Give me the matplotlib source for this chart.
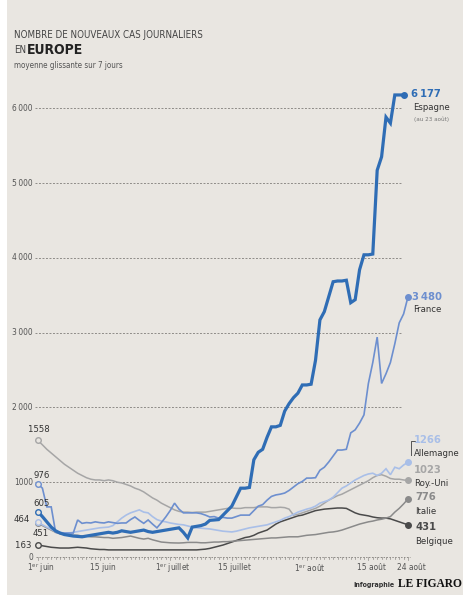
import matplotlib
matplotlib.use("Agg")
import matplotlib.pyplot as plt
from matplotlib.patches import Rectangle
import numpy as np

W, H = 463, 595

espagne = [605, 540, 470, 400, 350, 320, 300, 290, 280, 275, 270, 280, 290, 300, 310, 320, 330, 320, 330, 350,
           340, 330, 340, 350, 360, 340, 330, 340, 350, 360, 370, 380, 390, 330, 255, 400, 410, 420, 440, 490,
           495, 500, 560, 620, 680, 800, 920, 920, 930, 1300, 1400, 1440, 1600, 1740, 1740, 1760, 1950, 2050, 2130, 2190,
           2300, 2300, 2310, 2630, 3170, 3280, 3480, 3680, 3690, 3690, 3700, 3400, 3440, 3840, 4040, 4040, 4050, 5170, 5350, 5880,
           5800, 6177, 6177, 6177]
france = [976, 920, 670, 670, 330, 320, 320, 320, 320, 495, 450, 460, 455, 470, 460, 455, 470, 460, 450, 455,
          455, 500, 535, 490, 450, 495, 440, 390, 460, 535, 620, 720, 640, 590, 590, 590, 590, 580, 560, 535,
          540, 520, 530, 520, 520, 540, 560, 560, 560, 620, 680, 700, 760, 810, 830, 840, 855, 890, 935, 980,
          1010, 1055, 1055, 1060, 1160, 1200, 1270, 1350, 1430, 1430, 1440, 1660, 1700, 1790, 1900, 2320, 2600, 2940, 2320, 2450,
          2600, 2850, 3130, 3250, 3480]
allemagne = [464, 430, 400, 370, 340, 330, 320, 320, 330, 340, 350, 360, 370, 380, 390, 395, 400, 420, 470, 520,
             560, 590, 610, 630, 600, 590, 540, 500, 480, 470, 455, 445, 435, 430, 415, 400, 390, 385, 380, 375,
             365, 355, 345, 340, 335, 345, 360, 375, 390, 400, 410, 420, 430, 450, 470, 490, 520, 540, 570, 600,
             620, 640, 655, 680, 720, 740, 760, 800, 860, 920, 950, 990, 1030, 1060, 1090, 1110, 1120, 1090, 1120, 1180,
             1100, 1200, 1180, 1230, 1266]
royaume_uni = [1558, 1500, 1440, 1390, 1340, 1290, 1240, 1200, 1160, 1120, 1090, 1060, 1040, 1030, 1030, 1020, 1030, 1020, 1000, 990,
               970, 950, 920, 900, 870, 830, 790, 760, 720, 690, 660, 630, 610, 600, 600, 595, 600, 600, 600, 610,
               620, 630, 640, 650, 655, 650, 650, 660, 660, 660, 670, 670, 670, 660, 660, 665, 660, 640, 560, 570,
               590, 610, 630, 650, 680, 720, 760, 790, 820, 840, 870, 900, 930, 960, 990, 1020, 1060, 1090, 1100, 1080,
               1050, 1040, 1040, 1030, 1023]
italie = [451, 420, 390, 360, 330, 310, 300, 300, 290, 290, 280, 280, 270, 270, 265, 260, 260, 250, 255, 260,
          270, 280, 265, 250, 240, 250, 230, 215, 200, 195, 190, 188, 187, 190, 195, 195, 195, 190, 190, 195,
          200, 200, 205, 205, 210, 215, 220, 225, 230, 235, 240, 245, 250, 255, 255, 260, 265, 270, 270, 270,
          280, 290, 295, 300, 310, 320, 330, 335, 345, 360, 380, 400, 420, 440, 455, 470, 480, 495, 505, 520,
          540, 600, 650, 710, 776]
belgique = [163, 150, 140, 130, 125, 120, 120, 120, 125, 130, 125, 120, 110, 105, 100, 100, 95, 95, 95, 95,
            95, 95, 95, 95, 95, 95, 95, 95, 95, 95, 95, 95, 95, 95, 95, 95, 95, 100, 105, 115,
            130, 145, 160, 180, 200, 220, 240, 260, 270, 290, 320, 340, 360, 400, 440, 470, 490, 510, 530, 550,
            560, 580, 600, 620, 630, 640, 645, 650, 655, 655, 650, 620, 590, 570, 560, 550, 535, 525, 520, 520,
            510, 490, 470, 450, 431]

y_ticks = [0, 1000, 2000, 3000, 4000, 5000, 6000]
y_tick_labels = ["0", "1000", "2\u2009000", "3\u2009000", "4\u2009000", "5\u2009000", "6\u2009000"]
x_ticks = [0, 14, 30, 44, 61, 75, 84]
x_tick_labels = ["1$^{er}$ juin", "15 juin", "1$^{er}$ juillet", "15 juillet", "1$^{er}$ août", "15 août", "24 août"]

BG = "#e9e6e1"
C_ES = "#2f6db5"
C_FR = "#6d8fcf"
C_DE = "#a9bfe8"
C_UK = "#a6a6a6"
C_IT = "#8a8a8a"
C_BE = "#4a4a4a"
TXT = "#333333"

plt.rcParams["font.family"] = ["DejaVu Sans"]
plt.rcParams["font.stretch"] = "condensed"
plt.rcParams["mathtext.fontset"] = "custom"
plt.rcParams["mathtext.rm"] = "DejaVu Sans:stretch=condensed"
plt.rcParams["mathtext.it"] = "DejaVu Sans:stretch=condensed"

fig = plt.figure(figsize=(W / 100, H / 100), dpi=100, facecolor=BG)
fig.patches.append(Rectangle((0, 0), 7 / W, 1, transform=fig.transFigure, facecolor="white", edgecolor="none"))

# pixel mapping: day d -> x = 38 + 4.405 d ; value v -> y = 557 - 0.0748 v
px_left, px_right, px_top, px_bot = 30, 430, 60, 562
x0, xs = 38.0, 4.405
y0, ys = 557.0, 0.0748
ax = fig.add_axes([px_left / W, 1 - px_bot / H, (px_right - px_left) / W, (px_bot - px_top) / H])
ax.set_xlim((px_left - x0) / xs, (px_right - x0) / xs)
ax.set_ylim(-(px_bot - y0) / ys, (y0 - px_top) / ys)
ax.set_facecolor("none")
for s in ax.spines.values():
    s.set_visible(False)
ax.set_xticks([])
ax.set_yticks([])

# grid lines
for v in y_ticks[1:]:
    ax.plot([-0.6, 82.5], [v, v], color="#8f8c88", lw=0.7, ls=(0, (2, 1.6)), zorder=1)

# baseline with daily ticks
ax.plot([-0.5, 84.5], [0, 0], color="#8f8c88", lw=0.7, ls=(0, (1.5, 1.5)), zorder=1, clip_on=False)
for d in range(0, 85):
    ln = 45 if d in x_ticks else 25
    ax.plot([d, d], [0, -ln], color="#8f8c88", lw=0.5, zorder=1, clip_on=False)

def ypx(v):
    return 1 - (y0 - ys * v) / H

def xpx(d):
    return (x0 + xs * d) / W

for v, lab in zip(y_ticks, y_tick_labels):
    fig.text(33 / W, ypx(v), lab, ha="right", va="center", fontsize=6, color="#555555")

for d, lab in zip(x_ticks, x_tick_labels):
    fig.text(xpx(d) + 3 / W, 1 - 568 / H, lab, ha="center", va="center", fontsize=6, color="#555555")

series = [
    (belgique, C_BE, 1.1, 3),
    (italie, C_IT, 1.1, 3),
    (royaume_uni, C_UK, 1.1, 3),
    (allemagne, C_DE, 1.2, 4),
    (france, C_FR, 1.2, 5),
    (espagne, C_ES, 2.3, 6),
]
for vals, col, lw, z in series:
    days = np.arange(len(vals))
    ax.plot(days, vals, color=col, lw=lw, zorder=z, solid_joinstyle="miter")
    ax.plot([days[0]], [vals[0]], marker="o", ms=4, mfc=BG, mec=col, mew=1.0, zorder=z + 0.5, ls="none")
    ax.plot([days[-1]], [vals[-1]], marker="o", ms=4, mfc=col, mec=col, zorder=z + 0.5, ls="none", clip_on=False)

# start labels
start = [("1558", 39, 430, "center"),
         ("976", 42, 475, "center"),
         ("605", 42, 503, "center"),
         ("464", 30, 520, "right"),
         ("451", 41, 533, "center"),
         ("163", 31, 546, "right")]
for s, x, y, ha in start:
    fig.text(x / W, 1 - y / H, s, ha=ha, va="center", fontsize=6.8, color="#333333")

# end labels
end = [("6\u2009177", 411, 94, C_ES), ("3\u2009480", 412, 297, C_FR),
       ("1266", 414, 440, C_DE), ("1023", 414, 470, C_UK),
       ("776", 415, 497, C_IT), ("431", 415, 527, C_BE)]
for s, x, y, c in end:
    fig.text(x / W, 1 - y / H, s, ha="left", va="center", fontsize=8, color=c, fontweight="bold")
names = [("Espagne", 413, 107), ("France", 413, 310), ("Allemagne", 414, 453), ("Roy.-Uni", 414, 484),
         ("Italie", 415, 511), ("Belgique", 415, 541)]
for s, x, y in names:
    fig.text(x / W, 1 - y / H, s, ha="left", va="center", fontsize=6.8, color=TXT)
fig.text(414 / W, 1 - 119 / H, "(au 23 août)", ha="left", va="center", fontsize=4.5, color="#777777")

# bracket near Allemagne
fig.lines.append(plt.Line2D([411 / W, 411 / W, 415 / W], [1 - 455 / H, 1 - 441 / H, 1 - 441 / H],
                            transform=fig.transFigure, color="#555555", lw=0.7))

# titles
fig.text(14 / W, 1 - 35 / H, "NOMBRE DE NOUVEAUX CAS JOURNALIERS", fontsize=7, color="#444444", va="center")
fig.text(14 / W, 1 - 50 / H, "EN", fontsize=7, color="#444444", va="center")
fig.text(27 / W, 1 - 50 / H, "EUROPE", fontsize=10, color="#222222", fontweight="bold", va="center")
fig.text(14 / W, 1 - 66 / H, "moyenne glissante sur 7 jours", fontsize=5.8, color="#555555", va="center")

fig.text(394 / W, 1 - 585 / H, "Infographie", fontsize=5, color="#333333", fontweight="bold", ha="right", va="center")
fig.text(398 / W, 1 - 584 / H, "LE FIGARO", fontsize=8.3, color="#111111", fontweight="bold", ha="left", va="center",
         family=["Liberation Serif", "DejaVu Serif"], stretch="normal")

fig.savefig("out.png", dpi=100, facecolor=BG)
